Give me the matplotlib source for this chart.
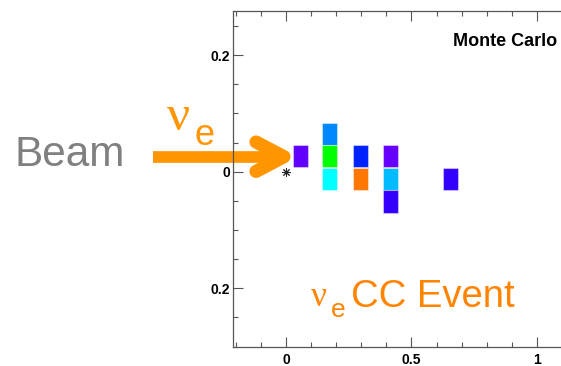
import matplotlib.pyplot as plt
import numpy as np
from matplotlib.ticker import MultipleLocator, FixedLocator

plt.rcParams['font.family'] = ['Liberation Sans', 'DejaVu Sans']

# hit cells of the event (centre positions and colours)
hit_x = [0.0586, 0.1753, 0.1753, 0.1753, 0.2976, 0.2976, 0.4155, 0.4155, 0.4155, 0.6566]
hit_y = [0.0266, 0.0643, 0.0266, -0.012, 0.0266, -0.012, 0.0266, -0.012, -0.0511, -0.012]
hit_col = ['#6000ff', '#0088ff', '#00ff00', '#00ffff', '#0022ff',
           '#ff7700', '#6600ff', '#00bbff', '#3300ff', '#3300ff']
vtx_x = [0.0]
vtx_y = [0.0]

xticks = [0, 0.5, 1]
xticklabels = ['0', '0.5', '1']
yticks = [-0.2, 0, 0.2]
yticklabels = ['0.2', '0', '0.2']

W, H = 561, 366
cell_w = 0.0598
cell_h = 0.0383

fig = plt.figure(figsize=(W / 100, H / 100), dpi=100)


def fx(px):
    return px / W


def fy(py):
    return 1 - py / H


# axes: left spine at px 233, bottom at 347, top at 11, right runs off the picture
ax = fig.add_axes([fx(233), fy(347), fx(700) - fx(233), fy(11) - fy(347)])
ax.set_xlim(-0.211, -0.211 + 467 / 251)
ax.set_ylim(-0.3007, 0.2757)

ax.bar(hit_x, cell_h, width=cell_w, bottom=np.array(hit_y) - cell_h / 2,
       color=hit_col, edgecolor=(1, 1, 1, 0.4), linewidth=0.8, zorder=3)
ax.plot(vtx_x, vtx_y, linestyle='none', marker=(8, 2, 0), markersize=6,
        color='#222222', markeredgewidth=0.7, zorder=4)

for s in ax.spines.values():
    s.set_color('#555555')
    s.set_linewidth(0.9)
ax.spines['right'].set_visible(False)

ax.xaxis.set_major_locator(FixedLocator(xticks))
ax.set_xticklabels(xticklabels)
ax.xaxis.set_minor_locator(MultipleLocator(0.1))
ax.yaxis.set_major_locator(FixedLocator(yticks))
ax.set_yticklabels(yticklabels)
ax.yaxis.set_minor_locator(MultipleLocator(0.05))
ax.tick_params(which='both', direction='in', top=True,
               color='#555555', width=0.8)
ax.tick_params(which='major', length=7.2, labelsize=10)
ax.tick_params(which='minor', length=3.6)
ax.tick_params(axis='x', pad=4.5)
ax.tick_params(axis='y', pad=2)
for lab in ax.get_xticklabels() + ax.get_yticklabels():
    lab.set_fontweight('bold')

# texts
nu_font = ['Liberation Serif', 'DejaVu Serif']
fig.text(fx(453), fy(46), 'Monte Carlo', fontsize=13, fontweight='bold',
         va='baseline', ha='left')
fig.text(fx(14), fy(166), 'Beam', fontsize=30.5, color='#808080',
         va='baseline', ha='left')
fig.text(fx(167), fy(130), 'ν', fontsize=37, color='#ff9500', family=nu_font,
         va='baseline', ha='left')
fig.text(fx(195), fy(144.5), 'e', fontsize=26, color='#ff9500',
         va='baseline', ha='left')
fig.text(fx(311), fy(306), 'ν', fontsize=25.5, color='#ff8400', family=nu_font,
         va='baseline', ha='left')
fig.text(fx(331), fy(317), 'e', fontsize=19, color='#ff8400',
         va='baseline', ha='left')
fig.text(fx(351), fy(307.3), 'CC Event', fontsize=27.5, color='#ff8400',
         va='baseline', ha='left')

# beam arrow, drawn in figure coordinates
ax.plot([fx(153), fx(280)], [fy(156.7), fy(156.7)], color='#ff9500', lw=8.4,
        solid_capstyle='butt', transform=fig.transFigure, clip_on=False)
ax.plot([fx(256), fx(284), fx(256)], [fy(142), fy(156.7), fy(171.4)],
        color='#ff9500', lw=9.5, solid_capstyle='round', solid_joinstyle='round',
        transform=fig.transFigure, clip_on=False)

fig.savefig('out.png', dpi=100)
